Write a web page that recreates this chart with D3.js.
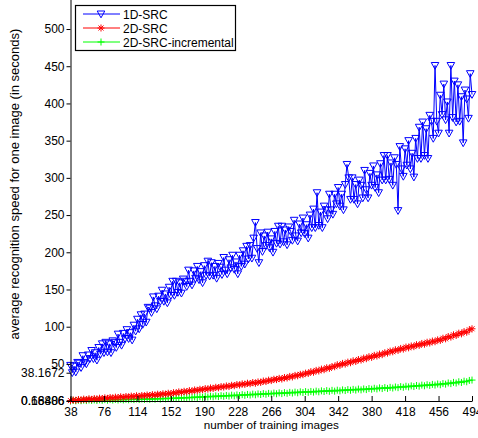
<!DOCTYPE html>
<html>
<head>
<meta charset="utf-8">
<script src="https://cdn.jsdelivr.net/npm/d3@7"></script>
<style>
  body { margin: 0; background: #fff; }
  text { font-family: "Liberation Sans", Arial, sans-serif; }
</style>
</head>
<body>
<div class="chartContainer"></div>
<script>
// 1D-SRC sampled every 2 images from 38, the 2D ones every 3
var start = 38;
var step1D = 2, step2D = 3;

var src1D = [
  48, 38.1672, 47, 39, 52, 51, 45, 61, 52, 50,
  62, 57, 68, 57, 65, 55, 72, 63, 77, 65,
  79, 66, 77, 65, 81, 79, 72, 90, 79, 75,
  91, 84, 96, 84, 92, 82, 102, 94, 110, 97,
  116, 103, 117, 106, 126, 125, 119, 140, 128, 124,
  141, 134, 149, 134, 144, 132, 153, 142, 161, 142,
  161, 146, 159, 145, 164, 161, 154, 176, 161, 156,
  175, 165, 181, 163, 174, 159, 182, 169, 188, 168,
  186, 169, 181, 165, 185, 180, 170, 193, 176, 171,
  190, 179, 196, 177, 187, 171, 196, 181, 202, 184,
  208, 191, 209, 192, 219, 240, 205, 186, 226, 201,
  222, 209, 227, 206, 218, 200, 228, 212, 235, 211,
  235, 214, 230, 210, 234, 228, 216, 243, 222, 215,
  238, 226, 246, 225, 237, 219, 250, 233, 258, 233,
  280, 236, 254, 233, 262, 257, 245, 278, 257, 251,
  278, 265, 287, 262, 278, 257, 291, 318, 300, 271,
  300, 271, 291, 265, 297, 290, 273, 310, 284, 273,
  306, 290, 316, 287, 304, 280, 319, 297, 330, 297,
  330, 298, 320, 290, 327, 318, 256, 342, 312, 302,
  339, 317, 350, 312, 333, 301, 353, 326, 368, 326,
  375, 330, 366, 326, 384, 376, 353, 451, 376, 360,
  411, 385, 426, 378, 402, 360, 451, 381, 430, 375,
  425, 376, 409, 347, 418, 406, 380, 440, 412
];

var src2D = [
  0.68486, 1.6, 1.1, 2.2, 1.5, 2.7, 2.0, 3.2, 2.4, 3.4,
  2.8, 3.9, 3.3, 4.4, 3.7, 4.9, 4.1, 5.3, 4.6, 5.8,
  5.1, 6.2, 5.5, 6.7, 6.0, 7.2, 6.4, 7.6, 7.0, 8.2,
  7.5, 8.7, 8.0, 9.3, 8.6, 9.9, 9.2, 10.6, 9.9, 11.3,
  10.9, 12.4, 11.8, 13.2, 12.5, 14.1, 13.4, 15.0, 14.3, 15.9,
  15.2, 16.8, 16.1, 17.7, 17.0, 18.6, 17.9, 19.5, 18.9, 20.4,
  19.6, 21.3, 20.7, 22.3, 21.6, 23.2, 22.5, 24.1, 23.4, 25.0,
  24.0, 25.8, 25.1, 27.0, 26.3, 28.2, 27.6, 29.4, 28.9, 30.6,
  29.7, 31.7, 31.1, 33.2, 32.5, 34.6, 34.0, 36.0, 35.5, 37.6,
  37.2, 39.6, 38.8, 41.3, 40.5, 43.0, 42.2, 44.8, 44.0, 46.5,
  46.2, 48.9, 48.0, 50.7, 49.8, 52.4, 51.6, 54.2, 53.3, 55.9,
  55.2, 57.8, 57.0, 59.7, 58.8, 61.5, 60.6, 63.2, 62.4, 65.0,
  64.5, 67.2, 66.3, 69.0, 68.1, 70.8, 69.9, 72.6, 71.6, 74.1,
  73.2, 75.8, 74.9, 77.5, 76.5, 79.1, 78.1, 80.7, 79.8, 82.3,
  81.6, 84.5, 83.7, 86.8, 86.0, 89.1, 88.2, 91.3, 90.4, 93.4,
  92.6, 95.8, 97.2
];

var src2DInc = [
  0.16806, 0.9, 0.4, 1.2, 0.6, 1.3, 0.7, 1.5, 0.9, 1.6,
  0.8, 1.8, 1.1, 2.0, 1.2, 2.1, 1.4, 2.3, 1.5, 2.4,
  1.6, 2.5, 1.8, 2.7, 2.0, 2.9, 2.1, 3.0, 2.3, 3.1,
  2.4, 3.3, 2.6, 3.5, 2.8, 3.8, 3.1, 4.0, 3.3, 4.3,
  3.5, 4.6, 3.8, 4.9, 4.1, 5.2, 4.5, 5.6, 4.8, 5.9,
  5.1, 6.3, 5.5, 6.6, 5.8, 7.0, 6.1, 7.3, 6.5, 7.6,
  6.8, 8.0, 7.1, 8.3, 7.5, 8.7, 7.8, 9.0, 8.2, 9.4,
  8.5, 9.7, 8.9, 10.1, 9.2, 10.4, 9.6, 10.8, 9.9, 11.1,
  10.1, 11.4, 10.5, 11.8, 10.9, 12.1, 11.2, 12.5, 11.6, 12.8,
  11.8, 13.0, 12.1, 13.4, 12.5, 13.8, 12.9, 14.1, 13.2, 14.5,
  13.4, 14.7, 13.8, 15.1, 14.2, 15.5, 14.6, 15.8, 14.9, 16.2,
  15.1, 16.4, 15.5, 16.9, 16.0, 17.3, 16.4, 17.8, 16.9, 18.2,
  17.1, 18.5, 17.6, 19.0, 18.1, 19.5, 18.6, 20.0, 19.1, 20.5,
  19.6, 21.0, 20.1, 21.5, 20.6, 22.0, 21.1, 22.5, 21.6, 23.0,
  22.0, 23.6, 22.8, 24.4, 23.5, 25.2, 24.3, 26.0, 25.1, 26.8,
  26.0, 27.8, 28.3
];

var seriesNames = ["1D-SRC", "2D-SRC", "2D-SRC-incremental"];
var seriesColors = ["#0000ff", "#ff0000", "#00ff00"];
var xTicks = [38, 76, 114, 152, 190, 228, 266, 304, 342, 380, 418, 456, 494];
var yTicks = [0.16806, 0.68486, 38.1672, 50, 100, 150, 200, 250, 300, 350, 400, 450, 500];

var width = 478, height = 438;
var plotLeft = 70.5, plotRight = 472, plotTop = 0, plotBottom = 401;

var svg = d3.select(".chartContainer")
    .append("svg")
    .attr("width", width)
    .attr("height", height);

var x = d3.scaleLinear().domain([38, 494]).range([plotLeft, plotRight]);
var y = d3.scaleLinear().domain([0.16806, 539]).range([plotBottom, plotTop]);

function toPoints(arr, step) {
    return arr.map(function (v, i) { return [start + i * step, v]; });
}

var series = [
    toPoints(src1D, step1D),
    toPoints(src2D, step2D),
    toPoints(src2DInc, step2D)
];

// marker shapes: down triangle, asterisk, plus
var markerPaths = [
    "M-3.8,-3L3.8,-3L0,3.8Z",
    "M-3.5,0L3.5,0M0,-3.5L0,3.5M-2.5,-2.5L2.5,2.5M-2.5,2.5L2.5,-2.5",
    "M-3.5,0L3.5,0M0,-3.5L0,3.5"
];

var line = d3.line()
    .x(function (d) { return x(d[0]); })
    .y(function (d) { return y(d[1]); });

// green first, then red, blue on top
[2, 1, 0].forEach(function (k) {
    svg.append("path")
        .datum(series[k])
        .attr("fill", "none")
        .attr("stroke", seriesColors[k])
        .attr("stroke-width", 1)
        .attr("d", line);

    svg.append("g").selectAll("path")
        .data(series[k])
        .enter()
        .append("path")
        .attr("transform", function (d) { return "translate(" + x(d[0]) + "," + y(d[1]) + ")"; })
        .attr("d", markerPaths[k])
        .attr("fill", "none")
        .attr("stroke", seriesColors[k])
        .attr("stroke-width", 1);
});

// axes
var xAxis = d3.axisBottom(x).tickValues(xTicks).tickSizeInner(-5).tickSizeOuter(0).tickPadding(6);
var yAxis = d3.axisLeft(y).tickValues(yTicks).tickSizeInner(4).tickSizeOuter(0)
    .tickFormat(d3.format(".6~g")).tickPadding(2);

var gx = svg.append("g")
    .attr("transform", "translate(0," + plotBottom + ")")
    .call(xAxis);
var gy = svg.append("g")
    .attr("transform", "translate(" + plotLeft + ",0)")
    .call(yAxis);

[gx, gy].forEach(function (g) {
    g.select(".domain").attr("stroke", "#000");
    g.selectAll(".tick line").attr("stroke", "#000");
    g.selectAll(".tick text")
        .attr("fill", "#000")
        .style("font-family", "'Liberation Sans', Arial, sans-serif")
        .style("font-size", "12px");
});
gy.select(".domain").attr("d", "M0.5," + plotBottom + "V" + plotTop);

svg.append("text")
    .attr("x", (plotLeft + plotRight) / 2)
    .attr("y", 429)
    .attr("text-anchor", "middle")
    .style("font-size", "11.7px")
    .text("number of training images");

svg.append("text")
    .attr("transform", "translate(19,184) rotate(-90)")
    .attr("text-anchor", "middle")
    .style("font-size", "13px")
    .text("average recognition speed for one image (in seconds)");

// legend
var legend = svg.append("g");
legend.append("rect")
    .attr("x", 75.5).attr("y", 5.5)
    .attr("width", 160).attr("height", 45)
    .attr("fill", "#fff")
    .attr("stroke", "#000")
    .attr("stroke-width", 1.2);

var items = legend.selectAll("g.item")
    .data(seriesNames)
    .enter()
    .append("g")
    .attr("transform", function (d, i) { return "translate(0," + (14 + i * 14) + ")"; });

items.append("line")
    .attr("x1", 83).attr("x2", 120)
    .attr("stroke", function (d, i) { return seriesColors[i]; })
    .attr("stroke-width", 1);
items.append("path")
    .attr("transform", "translate(101,0)")
    .attr("d", function (d, i) { return markerPaths[i]; })
    .attr("fill", "none")
    .attr("stroke", function (d, i) { return seriesColors[i]; });
items.append("text")
    .attr("x", 123)
    .attr("y", 4.5)
    .style("font-size", "12px")
    .text(function (d) { return d; });
</script>
</body>
</html>
